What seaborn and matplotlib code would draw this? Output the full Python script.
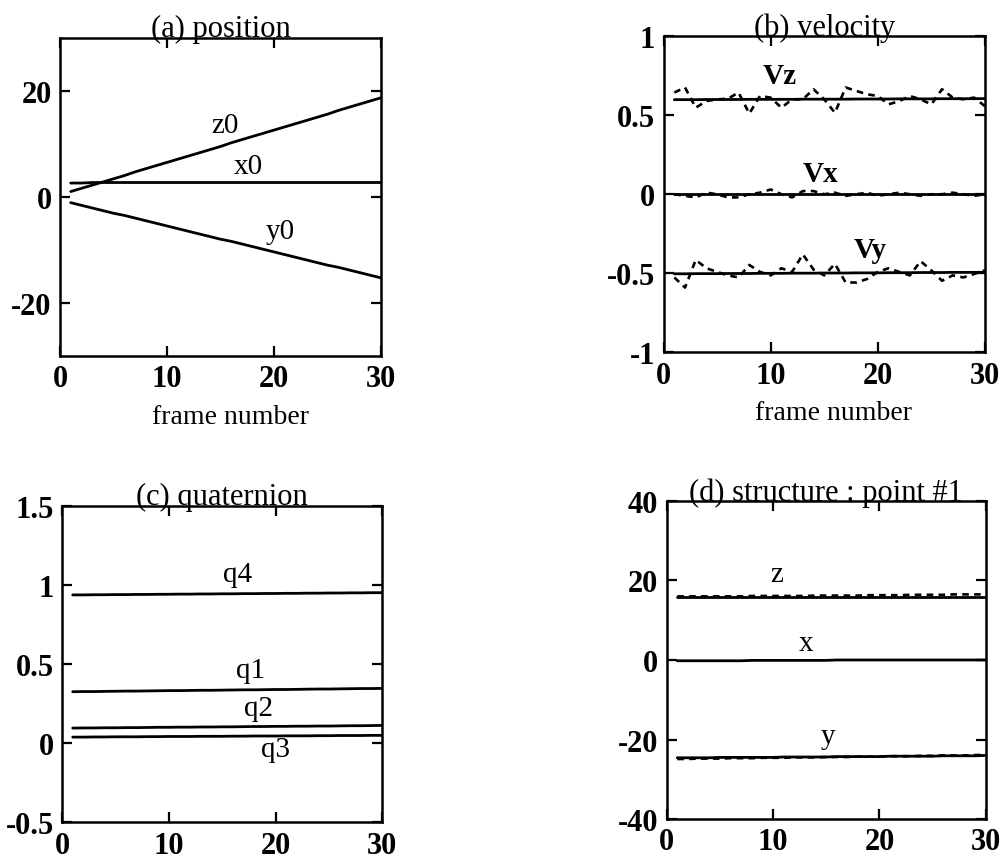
import matplotlib
matplotlib.use("Agg")
import matplotlib.pyplot as plt
import seaborn as sns

sns.set_style("ticks")
plt.rcParams['font.family'] = ['Liberation Serif', 'DejaVu Serif']
plt.rcParams['text.color'] = 'black'
plt.rcParams['axes.labelcolor'] = 'black'

# frame index shared by every panel
frames = list(range(1, 31))

# (a) position
z0 = [1.0, 1.6, 2.2, 2.8, 3.4, 4.0, 4.7, 5.3, 5.9, 6.5, 7.1, 7.7, 8.3, 8.9, 9.5,
      10.2, 10.8, 11.4, 12.0, 12.6, 13.2, 13.8, 14.4, 15.0, 15.6, 16.3, 16.9, 17.5, 18.1, 18.7]
x0 = [2.6, 2.6, 2.7, 2.7, 2.7, 2.7, 2.7, 2.7, 2.7, 2.7, 2.7, 2.7, 2.7, 2.7, 2.7,
      2.7, 2.7, 2.7, 2.7, 2.7, 2.7, 2.7, 2.7, 2.7, 2.7, 2.7, 2.7, 2.7, 2.7, 2.7]
y0 = [-1.1, -1.6, -2.1, -2.6, -3.1, -3.5, -4.0, -4.5, -5.0, -5.5, -6.0, -6.5, -7.0, -7.5, -8.0,
      -8.4, -8.9, -9.4, -9.9, -10.4, -10.9, -11.4, -11.9, -12.4, -12.9, -13.3, -13.8, -14.3, -14.8, -15.3]

# (b) velocity : true (solid) and estimated (dashed)
vz_true = [0.598, 0.598, 0.598, 0.599, 0.599, 0.599, 0.599, 0.600, 0.600, 0.600, 0.600, 0.600, 0.601, 0.601, 0.601,
           0.601, 0.601, 0.602, 0.602, 0.602, 0.602, 0.603, 0.603, 0.603, 0.603, 0.604, 0.604, 0.604, 0.604, 0.605]
vz_est = [0.643, 0.675, 0.547, 0.589, 0.600, 0.604, 0.643, 0.510, 0.621, 0.611, 0.547, 0.600, 0.600, 0.664, 0.600,
          0.515, 0.675, 0.653, 0.632, 0.621, 0.568, 0.589, 0.621, 0.600, 0.568, 0.664, 0.611, 0.600, 0.611, 0.557]
vx_true = [0.000, 0.000, 0.000, 0.000, 0.000, 0.000, 0.000, 0.000, 0.000, 0.000, 0.000, 0.000, 0.000, 0.000, 0.000,
           0.000, 0.000, 0.000, 0.000, 0.000, 0.000, 0.000, 0.000, 0.000, 0.000, 0.000, 0.000, 0.000, 0.000, 0.000]
vx_est = [0.00, -0.01, -0.02, 0.01, 0.00, -0.02, -0.02, 0.00, 0.01, 0.03, 0.00, -0.02, 0.02, 0.02, 0.00,
          0.01, -0.01, 0.00, 0.01, -0.01, 0.00, 0.01, 0.00, -0.01, 0.00, 0.00, 0.01, 0.00, -0.01, 0.00]
vy_true = [-0.503, -0.503, -0.502, -0.502, -0.502, -0.501, -0.501, -0.501, -0.500, -0.500, -0.500, -0.499, -0.499, -0.499, -0.498,
           -0.498, -0.498, -0.497, -0.497, -0.497, -0.496, -0.496, -0.496, -0.495, -0.495, -0.495, -0.494, -0.494, -0.494, -0.493]
vy_est = [-0.526, -0.590, -0.415, -0.468, -0.491, -0.513, -0.526, -0.447, -0.491, -0.513, -0.468, -0.491, -0.380, -0.476, -0.513,
          -0.440, -0.558, -0.558, -0.536, -0.491, -0.468, -0.491, -0.513, -0.423, -0.481, -0.547, -0.513, -0.526, -0.504, -0.481]

# (c) quaternion
q4 = [0.937, 0.937, 0.938, 0.938, 0.939, 0.939, 0.940, 0.940, 0.941, 0.941, 0.942, 0.942, 0.943, 0.943, 0.944,
      0.944, 0.945, 0.945, 0.946, 0.946, 0.947, 0.947, 0.948, 0.948, 0.949, 0.949, 0.950, 0.950, 0.951, 0.951]
q1 = [0.325, 0.326, 0.326, 0.327, 0.328, 0.329, 0.329, 0.330, 0.331, 0.332, 0.332, 0.333, 0.334, 0.334, 0.335,
      0.336, 0.337, 0.337, 0.338, 0.339, 0.339, 0.340, 0.341, 0.342, 0.342, 0.343, 0.344, 0.345, 0.345, 0.346]
q2 = [0.095, 0.096, 0.096, 0.097, 0.097, 0.098, 0.098, 0.099, 0.100, 0.100, 0.101, 0.101, 0.102, 0.102, 0.103,
      0.103, 0.104, 0.105, 0.105, 0.106, 0.106, 0.107, 0.107, 0.108, 0.108, 0.109, 0.110, 0.110, 0.111, 0.112]
q3 = [0.038, 0.038, 0.039, 0.039, 0.040, 0.040, 0.040, 0.041, 0.041, 0.042, 0.042, 0.042, 0.043, 0.043, 0.043,
      0.044, 0.044, 0.045, 0.045, 0.045, 0.046, 0.046, 0.046, 0.047, 0.047, 0.048, 0.048, 0.048, 0.049, 0.049]

# (d) structure : point #1, true (solid) and estimated (dashed)
sz_true = [15.8, 15.8, 15.8, 15.8, 15.8, 15.8, 15.8, 15.8, 15.8, 15.8, 15.8, 15.8, 15.8, 15.8, 15.8,
           15.8, 15.8, 15.8, 15.8, 15.8, 15.8, 15.8, 15.8, 15.8, 15.8, 15.8, 15.8, 15.8, 15.8, 15.8]
sz_est = [16.0, 16.0, 16.0, 16.0, 16.0, 16.0, 16.0, 16.1, 16.1, 16.1, 16.1, 16.1, 16.1, 16.2, 16.2,
          16.2, 16.2, 16.2, 16.3, 16.3, 16.3, 16.3, 16.4, 16.4, 16.4, 16.4, 16.5, 16.5, 16.5, 16.5]
sx_true = [-0.2, -0.2, -0.2, -0.2, -0.2, -0.2, -0.2, -0.1, -0.1, -0.1, -0.1, -0.1, -0.1, -0.1, -0.1,
           0.0, 0.0, 0.0, 0.0, 0.0, 0.0, 0.0, 0.0, 0.0, 0.0, 0.0, 0.0, 0.0, 0.0, 0.0]
sy_true = [-24.6, -24.6, -24.6, -24.6, -24.5, -24.5, -24.5, -24.5, -24.5, -24.5, -24.4, -24.4, -24.4, -24.4, -24.4,
           -24.3, -24.3, -24.3, -24.3, -24.3, -24.2, -24.2, -24.2, -24.2, -24.2, -24.1, -24.1, -24.1, -24.1, -24.0]
sy_est = [-24.9, -24.9, -24.8, -24.8, -24.8, -24.7, -24.7, -24.7, -24.6, -24.6, -24.6, -24.5, -24.5, -24.5, -24.4,
          -24.4, -24.4, -24.3, -24.3, -24.3, -24.2, -24.2, -24.2, -24.1, -24.1, -24.0, -24.0, -24.0, -23.9, -23.9]

fig = plt.figure(figsize=(10.07, 8.62), dpi=100)

def panel(rect, title, ylim, yticks, yticklabels, xlabel=None):
    ax = fig.add_axes(rect)
    ax.set_xlim(0, 30)
    ax.set_ylim(*ylim)
    ax.set_xticks([0, 10, 20, 30])
    ax.set_yticks(yticks)
    ax.set_yticklabels(yticklabels)
    ax.tick_params(direction='in', top=True, right=True, length=7, width=1.6,
                   labelsize=22, pad=6, colors='black')
    for lab in ax.get_xticklabels() + ax.get_yticklabels():
        lab.set_fontweight('bold')
    for s in ax.spines.values():
        s.set_linewidth(1.8)
        s.set_color('black')
    ax.set_title(title, fontsize=22, pad=1)
    if xlabel:
        ax.set_xlabel(xlabel, fontsize=20)
        ax.xaxis.set_label_coords(0.53, -0.15)
    ax.set_ylabel('')
    return ax

def line(ax, y, dashed=False):
    if dashed:
        sns.lineplot(x=frames, y=y, ax=ax, color='black', linewidth=1.9,
                     linestyle=(0, (2.5, 2)))
    else:
        sns.lineplot(x=frames, y=y, ax=ax, color='black', linewidth=2.0)

# (a)
ax = panel([0.0596, 0.586, 0.319, 0.369], '(a) position', (-30, 30),
           [-20, 0, 20], ['-20', '0', '20'], 'frame number')
for s in (z0, x0, y0):
    line(ax, s)
ax.text(15.4, 13.6, 'z0', fontsize=21, ha='center', va='center')
ax.text(17.6, 5.8, 'x0', fontsize=21, ha='center', va='center')
ax.text(20.6, -6.4, 'y0', fontsize=21, ha='center', va='center')

# (b)
ax = panel([0.659, 0.590, 0.319, 0.367], '(b) velocity', (-1, 1),
           [-1, -0.5, 0, 0.5, 1], ['-1', '-0.5', '0', '0.5', '1'], 'frame number')
for s in (vz_true, vx_true, vy_true):
    line(ax, s)
for s in (vz_est, vx_est, vy_est):
    line(ax, s, dashed=True)
ax.text(10.8, 0.75, 'Vz', fontsize=21, fontweight='bold', ha='center', va='center')
ax.text(14.6, 0.13, 'Vx', fontsize=21, fontweight='bold', ha='center', va='center')
ax.text(19.3, -0.35, 'Vy', fontsize=21, fontweight='bold', ha='center', va='center')

# (c)
ax = panel([0.0616, 0.045, 0.318, 0.367], '(c) quaternion', (-0.5, 1.5),
           [-0.5, 0, 0.5, 1, 1.5], ['-0.5', '0', '0.5', '1', '1.5'])
for s in (q4, q1, q2, q3):
    line(ax, s)
ax.text(16.4, 1.07, 'q4', fontsize=21, ha='center', va='center')
ax.text(17.7, 0.46, 'q1', fontsize=21, ha='center', va='center')
ax.text(18.4, 0.225, 'q2', fontsize=21, ha='center', va='center')
ax.text(20.0, -0.04, 'q3', fontsize=21, ha='center', va='center')

# (d)
ax = panel([0.662, 0.0487, 0.317, 0.369], '(d) structure : point #1', (-40, 40),
           [-40, -20, 0, 20, 40], ['-40', '-20', '0', '20', '40'])
for s in (sz_true, sx_true, sy_true):
    line(ax, s)
for s in (sz_est, sy_est):
    line(ax, s, dashed=True)
ax.text(10.3, 21.5, 'z', fontsize=21, ha='center', va='center')
ax.text(13.1, 4.2, 'x', fontsize=21, ha='center', va='center')
ax.text(15.2, -19.0, 'y', fontsize=21, ha='center', va='center')

fig.savefig('out.png', dpi=100)
